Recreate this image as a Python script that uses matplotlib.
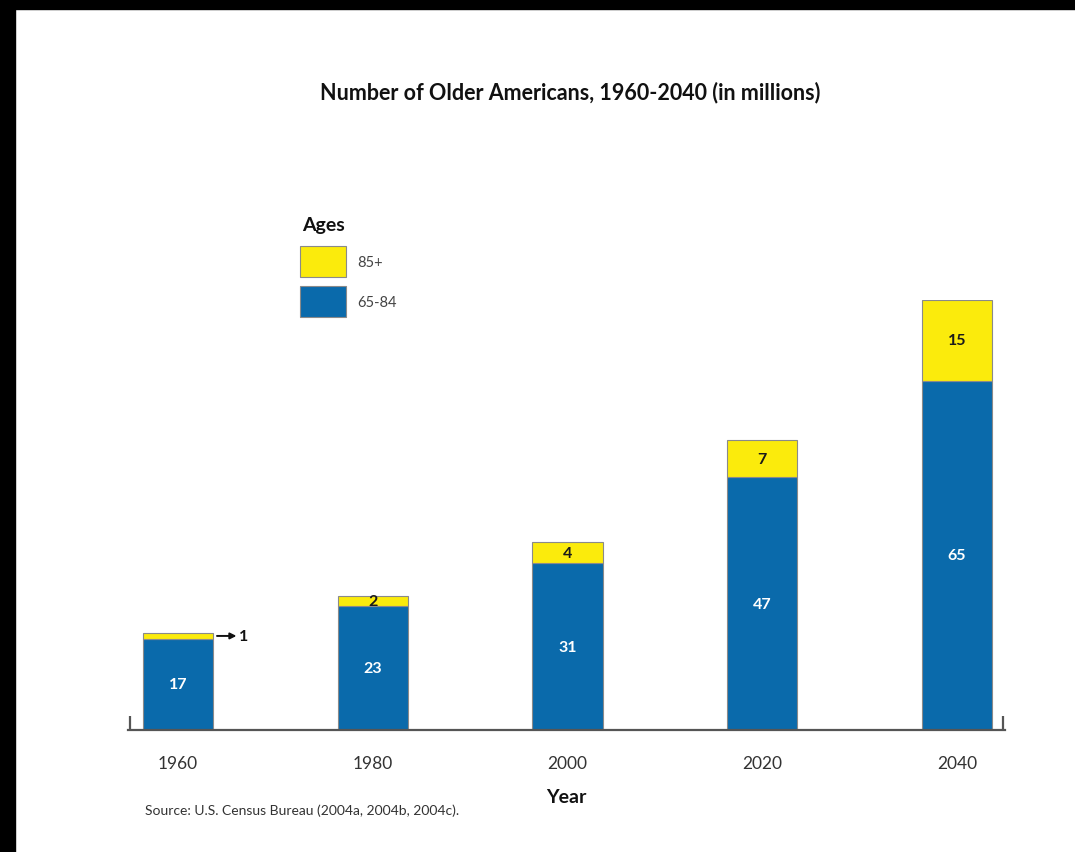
import matplotlib
matplotlib.use("Agg")
import matplotlib.pyplot as plt
from matplotlib.patches import Rectangle, Patch

# Data (millions of people)
years = ["1960", "1980", "2000", "2020", "2040"]
age_65_84 = [17, 23, 31, 47, 65]
age_85_plus = [1, 2, 4, 7, 15]
series_labels = ["85+", "65-84"]

BLUE = "#0a6aab"
YELLOW = "#fbeb0c"
EDGE = "#8a8a8a"
AXIS = "#555555"

plt.rcParams["font.family"] = ["Lato", "DejaVu Sans"]

W, H = 1075, 853
fig = plt.figure(figsize=(W / 100, H / 100), dpi=100)

# framing bands along top and left edge
fig.add_artist(Rectangle((0, 1 - 10 / H), 1, 10 / H, transform=fig.transFigure,
                         color="black", zorder=10))
fig.add_artist(Rectangle((0, 0), 15 / W, 1, transform=fig.transFigure,
                         color="black", zorder=10))

ax = fig.add_axes([128 / W, (H - 731) / H, (1005 - 128) / W, (731 - 301) / H])
x = list(range(len(years)))
width = 0.36

ax.bar(x, age_65_84, width, color=BLUE, edgecolor=EDGE, linewidth=0.8, zorder=2)
ax.bar(x, age_85_plus, width, bottom=age_65_84, color=YELLOW, edgecolor=EDGE,
       linewidth=0.8, zorder=2)

ax.set_xlim(-0.257, len(years) - 1 + 0.247)
ax.set_ylim(0, 80)

for s in ["top", "left", "right"]:
    ax.spines[s].set_visible(False)
ax.spines["bottom"].set_color(AXIS)
ax.spines["bottom"].set_linewidth(1.6)
ax.set_yticks([])
ax.set_xticks(x)
ax.set_xticklabels(years, fontsize=12.5, color="#333333")
ax.tick_params(axis="x", length=0, pad=18)

# small upturned ends of the baseline
for xe in (0.002, 0.998):
    ax.plot([xe, xe], [0, 0.032], transform=ax.transAxes, color=AXIS,
            lw=1.6, clip_on=False, solid_capstyle="butt")

# value labels
for i, (lo, hi) in enumerate(zip(age_65_84, age_85_plus)):
    ax.text(i, lo / 2, str(lo), ha="center", va="center", color="white",
            fontsize=11.5, fontweight="bold", zorder=3)
    if i == 0:
        xr = i + width / 2
        ax.annotate("", xy=(xr + 0.12, lo + hi / 2), xytext=(xr + 0.02, lo + hi / 2),
                    arrowprops=dict(arrowstyle="-|>", color="#111111", lw=1.4,
                                    mutation_scale=9, shrinkA=0, shrinkB=0))
        ax.text(xr + 0.135, lo + hi / 2, str(hi), ha="left", va="center",
                color="#111111", fontsize=11.5, fontweight="bold")
    else:
        ax.text(i, lo + hi / 2, str(hi), ha="center", va="center", color="#1a1a1a",
                fontsize=11.5, fontweight="bold", zorder=3)

ax.set_xlabel("Year", fontsize=14, fontweight="bold", color="#111111",
              labelpad=12)

fig.text(570 / W, (H - 93) / H, "Number of Older Americans, 1960-2040 (in millions)",
         ha="center", va="center", fontsize=15.5, fontweight="bold",
         color="#111111")

fig.text(145 / W, (H - 811) / H, "Source: U.S. Census Bureau (2004a, 2004b, 2004c).",
         ha="left", va="center", fontsize=10, color="#333333")

# legend: heading plus two swatches
fig.text(302 / W, (H - 226) / H, "Ages", ha="left", va="center", fontsize=14,
         fontweight="bold", color="#111111")
handles = [Patch(facecolor=YELLOW, edgecolor=EDGE, linewidth=0.8),
           Patch(facecolor=BLUE, edgecolor=EDGE, linewidth=0.8)]
leg = fig.legend(handles, series_labels, loc="upper left",
                 bbox_to_anchor=(300 / W, (H - 247) / H), frameon=False,
                 fontsize=10.5, handlelength=3.15, handleheight=2.89,
                 labelspacing=0.62, handletextpad=0.75, borderpad=0,
                 borderaxespad=0)
for t in leg.get_texts():
    t.set_color("#444444")

fig.savefig("out.png", dpi=100, facecolor="white")
